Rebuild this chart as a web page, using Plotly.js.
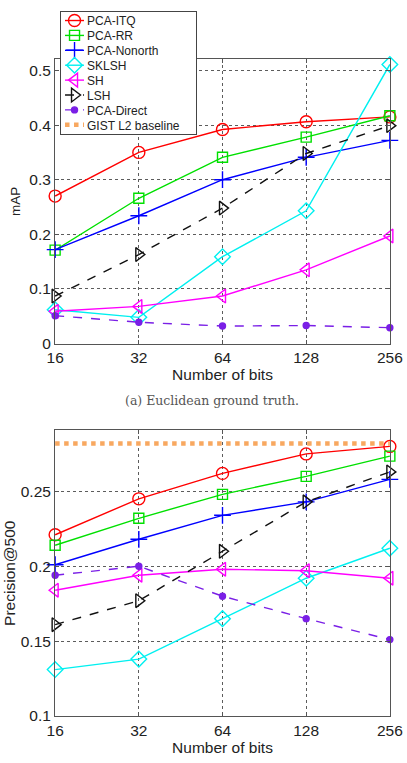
<!DOCTYPE html>
<html><head><meta charset="utf-8">
<script src="https://cdn.plot.ly/plotly-3.0.1.min.js"></script>
<style>html,body{margin:0;padding:0;background:#fff}#chart{width:407px;height:763px}</style>
</head><body><div id="chart"></div>
<script>
const bits = [16, 32, 64, 128, 256];
const methods = ['PCA-ITQ','PCA-RR','PCA-Nonorth','SKLSH','SH','LSH','PCA-Direct'];
// (a) mAP, Euclidean ground truth
const mapITQ      = [0.270, 0.350, 0.392, 0.406, 0.415];
const mapRR       = [0.171, 0.266, 0.341, 0.378, 0.417];
const mapNonorth  = [0.172, 0.234, 0.300, 0.341, 0.372];
const mapSKLSH    = [0.062, 0.048, 0.159, 0.243, 0.511];
const mapSH       = [0.059, 0.068, 0.087, 0.135, 0.197];
const mapLSH      = [0.087, 0.163, 0.248, 0.348, 0.399];
const mapDirect   = [0.051, 0.039, 0.032, 0.033, 0.029];
// (b) Precision@500
const precITQ     = [0.221, 0.245, 0.262, 0.275, 0.280];
const precRR      = [0.214, 0.232, 0.248, 0.260, 0.2735];
const precNonorth = [0.201, 0.218, 0.234, 0.243, 0.258];
const precSKLSH   = [0.131, 0.138, 0.165, 0.192, 0.212];
const precSH      = [0.184, 0.194, 0.198, 0.197, 0.192];
const precLSH     = [0.161, 0.177, 0.210, 0.243, 0.263];
const precDirect  = [0.194, 0.200, 0.180, 0.165, 0.151];
const gistBaseline = [0.282, 0.282, 0.282, 0.282, 0.282];
const xTickLabels = ['16','32','64','128','256'];

const styles = [
  {color:'#ff0000', symbol:'circle-open', size:12, dash:'solid'},
  {color:'#00e000', symbol:'square-open', size:10, dash:'solid'},
  {color:'#0000ff', symbol:'cross-thin-open', size:12, dash:'solid'},
  {color:'#00f0f0', symbol:'diamond-open', size:12, dash:'solid'},
  {color:'#ff00ff', symbol:'triangle-left-open', size:12, dash:'solid'},
  {color:'#111111', symbol:'triangle-right-open', size:12, dash:'dash'},
  {color:'#7a1fe6', symbol:'circle', size:6, dash:'dash'}
];
const mapSeries = [mapITQ, mapRR, mapNonorth, mapSKLSH, mapSH, mapLSH, mapDirect];
const precSeries = [precITQ, precRR, precNonorth, precSKLSH, precSH, precLSH, precDirect];

const traces = [];
mapSeries.forEach((ys, i) => {
  const s = styles[i];
  traces.push({x: bits, y: ys, name: methods[i], type:'scatter', mode:'lines+markers',
    xaxis:'x', yaxis:'y', cliponaxis:false, legendgroup: methods[i],
    line:{color:s.color, width:1.4, dash:s.dash},
    marker:{symbol:s.symbol, size:s.size, color:s.color, line:{color:s.color, width:1.4}}});
});
precSeries.forEach((ys, i) => {
  const s = styles[i];
  traces.push({x: bits, y: ys, name: methods[i], type:'scatter', mode:'lines+markers',
    xaxis:'x2', yaxis:'y2', cliponaxis:false, showlegend:false, legendgroup: methods[i],
    line:{color:s.color, width:1.4, dash:s.dash},
    marker:{symbol:s.symbol, size:s.size, color:s.color, line:{color:s.color, width:1.4}}});
});
traces.push({x: bits, y: gistBaseline, name:'GIST L2 baseline', type:'scatter', mode:'lines',
  xaxis:'x2', yaxis:'y2', cliponaxis:false,
  line:{color:'#f8a860', width:4.5, dash:'dot'}});

const fontFam = 'Liberation Sans, Arial, sans-serif';
const xRange = [Math.log10(16) - 0.0005, Math.log10(256) + 0.0005];
const xBase = {type:'log', range:xRange,
  tickvals: bits, ticktext: xTickLabels, tickfont:{family:fontFam, size:15.5, color:'#222'},
  showgrid:true, gridcolor:'#333', griddash:'dot', gridwidth:0.8,
  showline:true, linecolor:'#555', linewidth:1, mirror:'ticks',
  ticks:'inside', ticklen:4, tickcolor:'#555', zeroline:false};
const yBase = {tickfont:{family:fontFam, size:15.5, color:'#222'},
  showgrid:true, gridcolor:'#333', griddash:'dot', gridwidth:0.8,
  showline:true, linecolor:'#555', linewidth:1, mirror:'ticks',
  ticks:'inside', ticklen:4, tickcolor:'#555', zeroline:false};

const layout = {
  width:407, height:763,
  margin:{l:55, r:17, t:58, b:47},
  paper_bgcolor:'#fff', plot_bgcolor:'#fff',
  showlegend:true,
  legend:{x:0.015, y:1.0714, xanchor:'left', yanchor:'top', bgcolor:'#fff',
    bordercolor:'#444', borderwidth:1, font:{family:fontFam, size:12, color:'#222'},
    tracegroupgap:0, itemwidth:30},
  xaxis: Object.assign({}, xBase, {anchor:'y', domain:[0,1],
    title:{text:'Number of bits', font:{family:fontFam, size:15.5, color:'#222'}, standoff:0}}),
  yaxis: Object.assign({}, yBase, {anchor:'x', domain:[0.5669,1], range:[0,0.521],
    tickvals:[0,0.1,0.2,0.3,0.4,0.5], ticktext:['0','0.1','0.2','0.3','0.4','0.5'],
    title:{text:'mAP', font:{family:fontFam, size:13.5, color:'#222'}, standoff:5}}),
  xaxis2: Object.assign({}, xBase, {anchor:'y2', domain:[0,1],
    title:{text:'Number of bits', font:{family:fontFam, size:15.5, color:'#222'}, standoff:0}}),
  yaxis2: Object.assign({}, yBase, {anchor:'x2', domain:[0,0.4347], range:[0.1,0.2907],
    tickvals:[0.1,0.15,0.2,0.25], ticktext:['0.1','0.15','0.2','0.25'],
    title:{text:'Precision@500', font:{family:fontFam, size:15.5, color:'#222'}, standoff:1}}),
  annotations:[{text:'(a) Euclidean ground truth.', xref:'paper', yref:'paper',
    x:0.47, y:0.4802, xanchor:'center', yanchor:'middle', showarrow:false,
    font:{family:'DejaVu Serif, Liberation Serif, serif', size:12.5, color:'#555'}}]
};

function compactLegend() {
  try {
    const leg = document.querySelector('g.legend');
    if (!leg) return;
    const items = Array.from(leg.querySelectorAll('g.traces'));
    const step = 14.9, shiftX = 14;
    items.forEach((g, i) => {
      g.setAttribute('transform', 'translate(1,' + (9.5 + i * step) + ')');
      g.querySelectorAll('path.js-line').forEach(p => p.setAttribute('d', 'M4,0h19'));
      g.querySelectorAll('g.legendpoints path').forEach(p => p.setAttribute('transform', 'translate(13.5,0)'));
      g.querySelectorAll('text.legendtext').forEach(t => t.setAttribute('x', String(40 - shiftX)));
    });
    const bg = leg.querySelector('rect.bg');
    if (bg) {
      bg.setAttribute('width', '136');
      bg.setAttribute('height', String(9.5 + (items.length - 1) * step + 9.5));
    }
  } catch (e) { console.log(e); }
}
Plotly.newPlot('chart', traces, layout, {displayModeBar:false, staticPlot:true}).then(compactLegend);
</script></body></html>
